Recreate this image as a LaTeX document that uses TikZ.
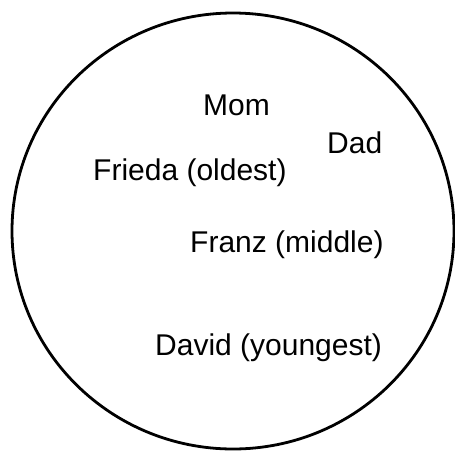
\documentclass[tikz,border=0pt]{standalone}
\usepackage{fontspec}
\setmainfont{Liberation Sans}

\begin{document}
\begin{tikzpicture}[x=1pt, y=-1pt]
\tikzset{member/.style={anchor=base west, inner sep=0pt, font=\fontsize{30}{35}\selectfont}}
\useasboundingbox (0,0) rectangle (455,451);
\draw[black, line width=2.8pt] (233,231) ellipse (221 and 218);

\node[member] (mom) at (203,115) {Mom};
\node[member] (dad) at (327,153) {Dad};
\node[member] (frieda) at (93,180) {Frieda (oldest)};
\node[member] (franz) at (190,252) {Franz (middle)};
\node[member] (david) at (155,355) {David (youngest)};
\end{tikzpicture}
\end{document}
